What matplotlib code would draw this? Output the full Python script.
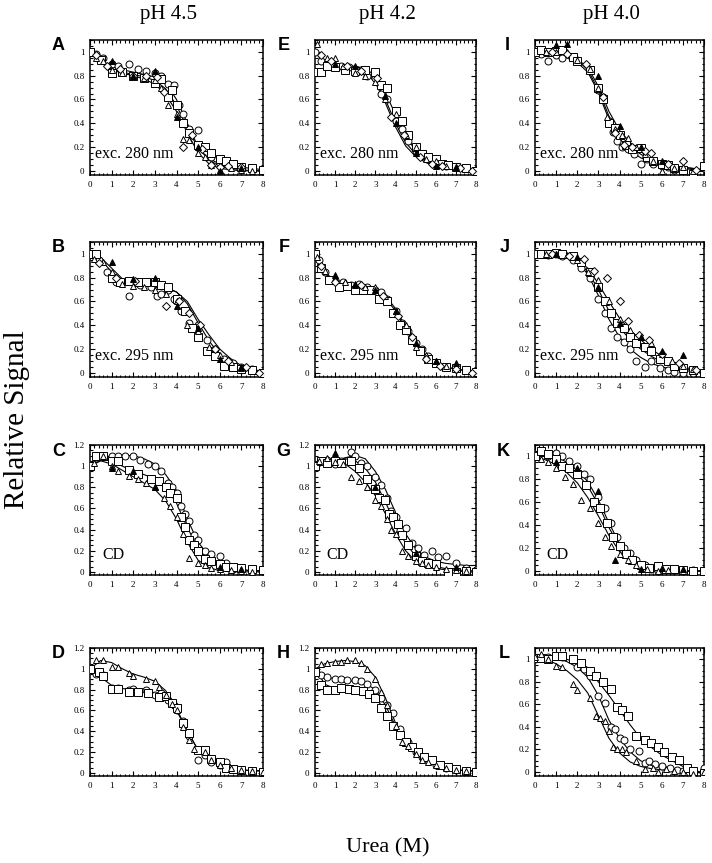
import matplotlib
matplotlib.use("Agg")
import matplotlib.pyplot as plt
from matplotlib.ticker import MultipleLocator, FuncFormatter

plt.rcParams['font.family'] = ['Liberation Serif', 'DejaVu Serif']

# urea grid used for the fitted curves (read every 0.5 M)
fit_x = [0, 0.5, 1, 1.5, 2, 2.5, 3, 3.5, 4, 4.5, 5, 5.5, 6, 6.5, 7, 7.5, 8]

# ---------------- A : pH 4.5, exc. 280 nm ----------------
A_fit = [[1.0, 0.93, 0.88, 0.85, 0.83, 0.81, 0.79, 0.74, 0.6, 0.4, 0.2, 0.09, 0.04, 0.02, 0.01, 0.0, 0.0],
         [1.0, 0.92, 0.86, 0.83, 0.81, 0.79, 0.76, 0.69, 0.55, 0.36, 0.19, 0.1, 0.06, 0.04, 0.03, 0.02, 0.01],
         [1.0, 0.91, 0.85, 0.82, 0.8, 0.77, 0.73, 0.64, 0.5, 0.32, 0.15, 0.06, 0.02, 0.01, 0.0, 0.0, 0.0]]
A_o_x = [0, 0.3, 0.6, 1, 1.3, 1.8, 2.2, 2.6, 3, 3.3, 3.6, 3.9, 4.1, 4.3, 4.6, 5, 5.3, 5.6, 6, 6.3, 6.6, 7, 7.5, 8]
A_o_y = [1.0, 0.98, 0.95, 0.9, 0.88, 0.9, 0.86, 0.84, 0.82, 0.8, 0.73, 0.72, 0.55, 0.48, 0.35, 0.34, 0.2, 0.12, 0.06, 0.07, 0.06, 0.03, 0.02, 0.0]
A_s_x = [0, 0.5, 1, 1.5, 2, 2.5, 3, 3.3, 3.6, 3.8, 4, 4.3, 4.6, 5, 5.3, 5.6, 6, 6.3, 6.6, 7, 7.5, 8]
A_s_y = [1.0, 0.93, 0.82, 0.83, 0.8, 0.78, 0.74, 0.77, 0.62, 0.68, 0.55, 0.4, 0.32, 0.22, 0.2, 0.15, 0.1, 0.08, 0.06, 0.03, 0.02, 0.01]
A_t_x = [0.3, 0.6, 1, 1.5, 2, 2.5, 3, 3.3, 3.6, 4, 4.3, 4.6, 5, 5.3, 5.6, 6, 6.5, 7, 7.5]
A_t_y = [0.95, 0.92, 0.85, 0.82, 0.8, 0.78, 0.76, 0.7, 0.55, 0.48, 0.27, 0.26, 0.15, 0.12, 0.05, 0.01, 0.02, 0.01, 0.0]
A_d_x = [0.3, 0.8, 1.4, 2, 2.6, 3.1, 3.4, 4.3, 4.7, 5.2, 5.6, 6, 6.4, 7]
A_d_y = [0.97, 0.88, 0.86, 0.8, 0.8, 0.79, 0.66, 0.2, 0.3, 0.18, 0.05, 0.03, 0.04, 0.03]
A_f_x = [1, 2, 3, 4, 5, 6, 7]
A_f_y = [0.92, 0.8, 0.84, 0.45, 0.2, 0.0, 0.02]

# ---------------- B : pH 4.5, exc. 295 nm ----------------
B_fit = [[1.0, 0.95, 0.85, 0.77, 0.74, 0.73, 0.72, 0.71, 0.68, 0.6, 0.45, 0.32, 0.2, 0.12, 0.06, 0.03, 0.01],
         [1.0, 0.97, 0.88, 0.79, 0.76, 0.75, 0.74, 0.72, 0.68, 0.58, 0.42, 0.27, 0.15, 0.08, 0.04, 0.02, 0.0]]
B_o_x = [0, 0.2, 0.4, 0.8, 1.2, 1.8, 2.3, 2.8, 3.1, 3.3, 3.6, 3.9, 4.2, 4.6, 5, 5.4, 5.8, 6.2, 6.6, 7, 7.5, 8]
B_o_y = [1.0, 1.0, 0.95, 0.85, 0.76, 0.65, 0.74, 0.72, 0.65, 0.66, 0.7, 0.62, 0.52, 0.42, 0.4, 0.28, 0.2, 0.12, 0.08, 0.05, 0.03, 0.0]
B_s_x = [0, 0.3, 1, 1.4, 1.8, 2.2, 2.6, 3.0, 3.3, 3.6, 4.0, 4.4, 4.7, 5.0, 5.4, 5.8, 6.2, 6.6, 7, 7.5, 8]
B_s_y = [1.0, 1.0, 0.8, 0.76, 0.77, 0.76, 0.76, 0.76, 0.74, 0.72, 0.62, 0.52, 0.38, 0.3, 0.18, 0.14, 0.06, 0.05, 0.03, 0.02, 0.0]
B_t_x = [0.2, 0.6, 1.0, 1.5, 2, 2.5, 3, 3.5, 4, 4.5, 5, 5.5, 6, 6.5, 7]
B_t_y = [0.96, 0.93, 0.85, 0.75, 0.73, 0.72, 0.7, 0.66, 0.6, 0.4, 0.35, 0.22, 0.15, 0.09, 0.04]
B_d_x = [0.4, 1.2, 2.1, 3.5, 4.1, 4.6, 5.1, 5.8, 6.4, 7.2, 7.8]
B_d_y = [0.92, 0.8, 0.77, 0.56, 0.6, 0.5, 0.4, 0.2, 0.1, 0.05, 0.0]
B_f_x = [1, 2, 3, 4, 5, 6, 7]
B_f_y = [0.93, 0.79, 0.8, 0.56, 0.38, 0.12, 0.05]

# ---------------- C : pH 4.5, CD ----------------
C_fit = [[1.0, 1.07, 1.1, 1.1, 1.1, 1.07, 1.02, 0.92, 0.77, 0.5, 0.28, 0.15, 0.08, 0.04, 0.02, 0.01, 0.01],
         [1.0, 1.07, 1.05, 1.0, 0.95, 0.92, 0.88, 0.8, 0.65, 0.42, 0.22, 0.1, 0.05, 0.03, 0.02, 0.01, 0.01],
         [1.0, 1.05, 1.02, 0.96, 0.9, 0.84, 0.78, 0.67, 0.5, 0.28, 0.11, 0.04, 0.01, 0.0, 0.0, 0.0, 0.0]]
C_o_x = [0.3, 0.6, 1, 1.3, 1.6, 2.0, 2.3, 2.7, 3.0, 3.3, 3.6, 3.8, 4.0, 4.2, 4.4, 4.6, 4.8, 5, 5.3, 5.6, 6, 6.3, 6.6, 7, 7.5, 8]
C_o_y = [1.08, 1.1, 1.1, 1.1, 1.1, 1.1, 1.06, 1.02, 1.0, 0.95, 0.84, 0.8, 0.75, 0.62, 0.55, 0.48, 0.35, 0.3, 0.2, 0.17, 0.15, 0.08, 0.03, 0.02, 0.02, 0.01]
C_s_x = [0, 0.3, 0.6, 1, 1.3, 1.8, 2.2, 2.8, 3.2, 3.5, 3.7, 4.0, 4.2, 4.4, 4.6, 4.8, 5.0, 5.3, 5.6, 6, 6.3, 6.6, 7, 7.5, 8]
C_s_y = [1.0, 1.1, 1.1, 1.05, 1.05, 0.96, 0.93, 0.88, 0.86, 0.8, 0.75, 0.7, 0.52, 0.42, 0.3, 0.25, 0.2, 0.12, 0.1, 0.07, 0.05, 0.05, 0.04, 0.03, 0.02]
C_t_x = [0.2, 0.6, 1.0, 1.3, 1.8, 2.2, 2.6, 3.0, 3.4, 3.7, 4.0, 4.3, 4.6, 5.0, 5.3, 5.6, 6, 6.5, 7, 7.5]
C_t_y = [1.03, 1.1, 1.0, 0.95, 0.91, 0.88, 0.84, 0.8, 0.7, 0.62, 0.52, 0.36, 0.13, 0.08, 0.06, 0.04, 0.03, 0.02, 0.01, 0.0]
C_f_x = [1, 2, 3, 6, 7]
C_f_y = [0.98, 0.95, 0.8, 0.05, 0.03]

# ---------------- D : pH 4.5 ----------------
D_fit = [[1.0, 1.08, 1.06, 1.0, 0.95, 0.92, 0.88, 0.79, 0.62, 0.4, 0.22, 0.12, 0.07, 0.04, 0.03, 0.02, 0.02],
         [1.0, 0.92, 0.84, 0.81, 0.8, 0.79, 0.77, 0.72, 0.6, 0.4, 0.22, 0.12, 0.07, 0.04, 0.03, 0.02, 0.02]]
D_t_x = [0.3, 0.6, 1.0, 1.3, 1.8, 2.0, 2.6, 3.0, 3.2, 3.5, 3.8, 4.0, 4.3, 4.6, 4.8, 5.3, 5.6, 6, 6.5, 7, 7.5, 8]
D_t_y = [1.08, 1.08, 1.02, 1.02, 0.96, 0.93, 0.9, 0.88, 0.83, 0.75, 0.66, 0.6, 0.44, 0.32, 0.23, 0.2, 0.12, 0.08, 0.05, 0.03, 0.02, 0.01]
D_o_x = [0, 0.3, 0.6, 1, 1.3, 1.8, 2.0, 2.6, 3.0, 3.3, 3.6, 3.9, 4.0, 4.3, 4.6, 5.0, 5.3, 5.6, 6, 6.3, 6.6, 7, 7.5, 8]
D_o_y = [1.0, 0.95, 0.94, 0.82, 0.82, 0.8, 0.81, 0.8, 0.75, 0.77, 0.7, 0.65, 0.6, 0.5, 0.35, 0.12, 0.17, 0.1, 0.08, 0.1, 0.04, 0.03, 0.02, 0.01]
D_s_x = [0, 0.4, 0.6, 1, 1.3, 1.8, 2.2, 2.7, 3.2, 3.5, 3.8, 4.0, 4.3, 4.6, 5.0, 5.3, 5.6, 6, 6.3, 6.6, 7, 7.5, 8]
D_s_y = [1.0, 0.97, 0.93, 0.81, 0.81, 0.78, 0.78, 0.77, 0.73, 0.74, 0.67, 0.62, 0.48, 0.38, 0.22, 0.22, 0.13, 0.1, 0.05, 0.04, 0.03, 0.02, 0.01]

# ---------------- E : pH 4.2, exc. 280 nm ----------------
E_fit = [[1.0, 0.9, 0.88, 0.88, 0.87, 0.84, 0.76, 0.6, 0.4, 0.24, 0.14, 0.08, 0.05, 0.03, 0.02, 0.01, 0.01],
         [1.0, 0.91, 0.88, 0.88, 0.88, 0.86, 0.8, 0.66, 0.47, 0.29, 0.17, 0.1, 0.06, 0.04, 0.02, 0.01, 0.01],
         [1.0, 0.9, 0.87, 0.87, 0.86, 0.83, 0.74, 0.57, 0.37, 0.21, 0.12, 0.07, 0.04, 0.02, 0.01, 0.01, 0.0]]
E_o_x = [0, 0.3, 0.6, 1, 1.3, 1.7, 2.0, 2.3, 2.6, 3.0, 3.3, 3.6, 4.0, 4.3, 4.6, 5.0, 5.3, 5.6, 6, 6.5, 7, 7.5, 8]
E_o_y = [1.0, 0.92, 0.9, 0.88, 0.88, 0.87, 0.86, 0.85, 0.8, 0.78, 0.65, 0.6, 0.42, 0.35, 0.25, 0.17, 0.13, 0.1, 0.07, 0.04, 0.03, 0.02, 0.01]
E_s_x = [0, 0.3, 0.6, 1, 1.5, 2, 2.5, 3, 3.3, 3.6, 4, 4.3, 4.6, 5, 5.3, 5.6, 6, 6.3, 6.6, 7, 7.5, 8]
E_s_y = [0.83, 0.83, 0.88, 0.87, 0.85, 0.84, 0.85, 0.83, 0.72, 0.7, 0.5, 0.42, 0.3, 0.2, 0.14, 0.12, 0.1, 0.06, 0.05, 0.03, 0.02, 0.0]
E_t_x = [0.1, 0.6, 1.0, 1.4, 2, 2.5, 3, 3.5, 4, 4.5, 5, 5.5, 6, 6.5, 7]
E_t_y = [1.07, 0.95, 0.95, 0.88, 0.82, 0.8, 0.75, 0.6, 0.48, 0.3, 0.2, 0.1, 0.08, 0.04, 0.03]
E_d_x = [0.3, 0.8, 1.6, 2.3, 3.1, 3.8, 4.4, 5.2, 5.8, 6.3, 7.2, 7.8]
E_d_y = [0.97, 0.92, 0.88, 0.84, 0.78, 0.45, 0.3, 0.12, 0.06, 0.04, 0.02, 0.0]
E_f_x = [1, 2, 3.5, 4, 5, 6, 7]
E_f_y = [0.9, 0.88, 0.63, 0.4, 0.15, 0.04, 0.03]

# ---------------- F : pH 4.2, exc. 295 nm ----------------
F_fit = [[1.0, 0.84, 0.78, 0.76, 0.75, 0.73, 0.71, 0.65, 0.54, 0.39, 0.25, 0.15, 0.09, 0.05, 0.03, 0.02, 0.01],
         [1.0, 0.82, 0.76, 0.73, 0.72, 0.71, 0.69, 0.63, 0.52, 0.37, 0.23, 0.14, 0.08, 0.05, 0.03, 0.02, 0.01]]
F_o_x = [0, 0.2, 0.5, 1, 1.4, 1.8, 2.2, 2.6, 3, 3.3, 3.6, 4, 4.3, 4.6, 5, 5.3, 5.6, 6, 6.4, 7, 7.5, 8]
F_o_y = [1.0, 0.95, 0.85, 0.78, 0.76, 0.74, 0.75, 0.72, 0.7, 0.68, 0.62, 0.52, 0.42, 0.35, 0.25, 0.2, 0.14, 0.08, 0.05, 0.03, 0.02, 0.0]
F_s_x = [0, 0.3, 0.7, 1.2, 1.6, 2, 2.4, 2.8, 3.2, 3.6, 3.9, 4.2, 4.5, 4.8, 5.2, 5.6, 6, 6.5, 7, 7.5, 8]
F_s_y = [1.0, 0.88, 0.78, 0.72, 0.73, 0.7, 0.7, 0.7, 0.62, 0.6, 0.5, 0.4, 0.36, 0.28, 0.18, 0.12, 0.08, 0.05, 0.04, 0.02, 0.01]
F_t_x = [0.1, 0.5, 1.0, 1.5, 2.0, 2.5, 3.0, 3.5, 4, 4.5, 5, 5.5, 6, 6.5]
F_t_y = [0.97, 0.86, 0.8, 0.76, 0.74, 0.72, 0.72, 0.65, 0.52, 0.4, 0.22, 0.15, 0.1, 0.06]
F_d_x = [0.3, 1, 2.3, 3.4, 4.1, 4.8, 5.5, 6.2, 7, 7.8]
F_d_y = [0.9, 0.76, 0.74, 0.65, 0.48, 0.3, 0.12, 0.06, 0.03, 0.0]
F_f_x = [1, 2, 3, 4, 5, 6, 7]
F_f_y = [0.82, 0.75, 0.7, 0.52, 0.25, 0.1, 0.08]

# ---------------- G : pH 4.2, CD ----------------
G_fit = [[1.0, 1.03, 1.05, 1.08, 1.1, 1.07, 0.95, 0.78, 0.56, 0.36, 0.22, 0.14, 0.1, 0.08, 0.07, 0.06, 0.06],
         [1.0, 1.04, 1.06, 1.07, 1.05, 0.98, 0.85, 0.66, 0.45, 0.27, 0.15, 0.08, 0.05, 0.03, 0.02, 0.01, 0.01],
         [1.0, 1.04, 1.05, 1.02, 0.95, 0.85, 0.72, 0.55, 0.36, 0.2, 0.1, 0.05, 0.03, 0.02, 0.01, 0.0, 0.0]]
G_o_x = [0.6, 1.0, 1.3, 1.8, 2.0, 2.3, 2.6, 3.0, 3.3, 3.6, 3.8, 4.0, 4.2, 4.5, 4.8, 5.1, 5.4, 5.8, 6.1, 6.5, 7.0, 7.5, 8]
G_o_y = [1.06, 1.02, 1.05, 1.13, 1.1, 1.03, 1.0, 0.9, 0.82, 0.7, 0.58, 0.52, 0.4, 0.41, 0.27, 0.23, 0.16, 0.2, 0.14, 0.15, 0.08, 0.04, 0.02]
G_s_x = [0, 0.3, 0.6, 1, 1.3, 1.8, 2.2, 2.6, 3.0, 3.2, 3.5, 3.7, 3.9, 4.1, 4.3, 4.6, 5.0, 5.3, 5.6, 6, 6.6, 7, 7.5, 8]
G_s_y = [1.0, 1.05, 1.03, 1.05, 1.03, 1.05, 0.98, 0.88, 0.78, 0.7, 0.68, 0.55, 0.52, 0.45, 0.35, 0.25, 0.15, 0.1, 0.08, 0.07, 0.0, 0.0, 0.01, 0.0]
G_t_x = [0.2, 0.6, 1.0, 1.4, 1.8, 2.2, 2.6, 3.0, 3.3, 3.6, 3.8, 4.0, 4.3, 4.6, 5.0, 5.3, 5.6, 6, 6.5, 7, 7.5]
G_t_y = [1.05, 1.08, 1.04, 1.02, 0.9, 0.86, 0.8, 0.68, 0.62, 0.5, 0.4, 0.36, 0.2, 0.15, 0.1, 0.08, 0.06, 0.05, 0.03, 0.02, 0.01]
G_f_x = [1, 3, 5, 7]
G_f_y = [1.12, 0.8, 0.18, 0.05]

# ---------------- H : pH 4.2 ----------------
H_fit = [[1.0, 1.05, 1.07, 1.08, 1.07, 1.03, 0.92, 0.72, 0.48, 0.3, 0.18, 0.11, 0.07, 0.05, 0.03, 0.02, 0.02],
         [1.0, 0.93, 0.9, 0.89, 0.88, 0.86, 0.8, 0.65, 0.45, 0.3, 0.18, 0.11, 0.07, 0.05, 0.03, 0.02, 0.02],
         [1.0, 0.85, 0.81, 0.8, 0.8, 0.78, 0.72, 0.6, 0.44, 0.31, 0.2, 0.13, 0.08, 0.05, 0.03, 0.02, 0.02]]
H_t_x = [0.3, 0.6, 1, 1.3, 1.6, 2, 2.3, 2.6, 3, 3.3, 3.6, 4, 4.3, 4.6, 5, 5.3, 5.6, 6, 6.5, 7, 7.5]
H_t_y = [1.05, 1.06, 1.07, 1.07, 1.08, 1.08, 1.06, 1.0, 0.9, 0.78, 0.65, 0.45, 0.3, 0.26, 0.18, 0.12, 0.1, 0.08, 0.05, 0.03, 0.02]
H_o_x = [0, 0.3, 0.6, 1, 1.3, 1.6, 2, 2.3, 2.6, 3, 3.3, 3.6, 3.9, 4.2, 4.6, 5, 5.3, 5.6, 6, 6.5, 7, 7.5, 8]
H_o_y = [0.97, 0.94, 0.92, 0.9, 0.9, 0.89, 0.89, 0.88, 0.85, 0.8, 0.72, 0.65, 0.58, 0.42, 0.3, 0.2, 0.15, 0.12, 0.08, 0.05, 0.03, 0.02, 0.01]
H_s_x = [0, 0.3, 0.6, 1, 1.3, 1.7, 2, 2.4, 2.7, 3, 3.3, 3.6, 3.9, 4.2, 4.5, 4.8, 5.1, 5.4, 5.8, 6.2, 6.6, 7, 7.5, 8]
H_s_y = [0.97, 0.84, 0.8, 0.8, 0.82, 0.81, 0.8, 0.79, 0.76, 0.72, 0.62, 0.55, 0.45, 0.36, 0.3, 0.25, 0.2, 0.15, 0.12, 0.08, 0.06, 0.04, 0.02, 0.01]

# ---------------- I : pH 4.0, exc. 280 nm ----------------
I_fit = [[1.0, 0.99, 0.98, 0.96, 0.93, 0.85, 0.68, 0.46, 0.31, 0.21, 0.14, 0.09, 0.06, 0.04, 0.03, 0.02, 0.0],
         [1.0, 1.0, 0.99, 0.97, 0.94, 0.87, 0.71, 0.5, 0.34, 0.24, 0.16, 0.11, 0.07, 0.05, 0.03, 0.02, 0.01],
         [1.0, 0.98, 0.97, 0.95, 0.91, 0.83, 0.66, 0.43, 0.27, 0.17, 0.11, 0.07, 0.05, 0.03, 0.02, 0.01, 0.0]]
I_o_x = [0, 0.3, 0.6, 1, 1.3, 1.8, 2.0, 2.6, 3, 3.2, 3.5, 3.7, 3.9, 4.1, 4.4, 4.7, 5, 5.3, 5.6, 6, 6.3, 6.6, 7, 7.5, 8]
I_o_y = [1.0, 0.98, 0.92, 0.97, 0.95, 0.96, 0.93, 0.85, 0.68, 0.62, 0.42, 0.33, 0.25, 0.2, 0.18, 0.14, 0.06, 0.1, 0.06, 0.04, 0.03, 0.01, 0.01, -0.02, 0.02]
I_s_x = [0, 0.3, 0.6, 1, 1.3, 1.8, 2, 2.6, 3, 3.2, 3.5, 3.8, 4, 4.3, 4.6, 5, 5.3, 5.6, 6, 6.3, 6.6, 7, 7.5, 8]
I_s_y = [1.0, 1.02, 1.0, 1.01, 1.02, 0.96, 0.92, 0.85, 0.7, 0.6, 0.4, 0.36, 0.3, 0.22, 0.18, 0.19, 0.12, 0.08, 0.06, 0.05, 0.02, 0.01, -0.03, 0.04]
I_t_x = [0.5, 1.0, 1.5, 2.0, 2.6, 3.0, 3.4, 3.8, 4.1, 4.4, 4.8, 5.2, 5.6, 6.0, 6.6, 7.0, 7.5]
I_t_y = [1.0, 1.0, 1.0, 0.93, 0.86, 0.7, 0.45, 0.35, 0.3, 0.28, 0.2, 0.14, 0.08, 0.0, 0.02, 0.03, 0.0]
I_d_x = [0.8, 1.5, 2.4, 3.2, 3.8, 4.2, 4.6, 5.2, 5.5, 6.3, 7.0, 7.6]
I_d_y = [1.0, 0.98, 0.9, 0.62, 0.32, 0.22, 0.2, 0.17, 0.15, 0.06, 0.08, 0.01]
I_f_x = [1, 1.5, 3, 4, 5, 6]
I_f_y = [1.06, 1.07, 0.8, 0.38, 0.2, 0.08]

# ---------------- J : pH 4.0, exc. 295 nm ----------------
J_fit = [[1.0, 1.0, 1.0, 0.98, 0.95, 0.88, 0.75, 0.6, 0.46, 0.36, 0.28, 0.2, 0.14, 0.09, 0.05, 0.03, 0.01],
         [1.0, 1.0, 0.99, 0.97, 0.94, 0.85, 0.7, 0.52, 0.38, 0.28, 0.2, 0.14, 0.09, 0.06, 0.04, 0.02, 0.01],
         [1.0, 1.0, 0.99, 0.97, 0.93, 0.83, 0.65, 0.45, 0.3, 0.2, 0.13, 0.08, 0.05, 0.03, 0.02, 0.01, 0.0]]
J_o_x = [0, 0.3, 0.6, 1, 1.3, 1.8, 2.2, 2.6, 3, 3.3, 3.6, 3.9, 4.2, 4.5, 4.8, 5.2, 5.5, 5.9, 6.3, 6.6, 7, 7.5, 8]
J_o_y = [1.0, 1.0, 0.99, 1.0, 0.98, 0.95, 0.88, 0.8, 0.62, 0.5, 0.38, 0.3, 0.26, 0.2, 0.1, 0.05, 0.1, 0.04, 0.02, 0.01, 0.0, 0.0, -0.02]
J_s_x = [0, 0.3, 0.6, 1, 1.3, 1.8, 2.2, 2.6, 3, 3.3, 3.6, 3.9, 4.2, 4.5, 4.8, 5.2, 5.5, 5.9, 6.3, 6.6, 7, 7.5, 8]
J_s_y = [1.0, 1.0, 1.0, 1.01, 1.0, 0.98, 0.93, 0.85, 0.72, 0.6, 0.5, 0.42, 0.38, 0.3, 0.25, 0.22, 0.18, 0.12, 0.1, 0.06, 0.04, 0.02, 0.0]
J_t_x = [0.5, 1, 1.5, 2.0, 2.5, 3, 3.5, 4, 4.5, 5, 5.5, 6, 6.5, 7, 7.5]
J_t_y = [1.0, 1.0, 0.99, 0.95, 0.85, 0.78, 0.6, 0.45, 0.36, 0.3, 0.25, 0.16, 0.1, 0.06, 0.03]
J_d_x = [0.8, 1.6, 2.3, 2.8, 3.4, 4.0, 4.4, 4.9, 5.4, 6.0, 6.8, 7.6]
J_d_y = [1.0, 0.98, 0.96, 0.86, 0.8, 0.6, 0.44, 0.32, 0.28, 0.16, 0.08, 0.02]
J_f_x = [1, 2, 3, 4, 5, 6, 7]
J_f_y = [1.0, 0.97, 0.72, 0.42, 0.3, 0.18, 0.15]

# ---------------- K : pH 4.0, CD ----------------
K_fit = [[1.0, 1.02, 1.0, 0.95, 0.88, 0.78, 0.62, 0.42, 0.24, 0.12, 0.05, 0.02, 0.01, 0.0, 0.0, 0.0, 0.0],
         [1.0, 1.0, 0.97, 0.92, 0.85, 0.74, 0.58, 0.38, 0.21, 0.1, 0.04, 0.02, 0.01, 0.0, 0.0, 0.0, 0.0],
         [1.0, 0.97, 0.93, 0.86, 0.77, 0.64, 0.48, 0.31, 0.17, 0.08, 0.03, 0.01, 0.0, 0.0, 0.0, 0.0, 0.0]]
K_o_x = [0, 0.3, 0.6, 1, 1.3, 1.6, 2, 2.3, 2.6, 3, 3.3, 3.6, 3.9, 4.2, 4.5, 4.8, 5.2, 5.5, 5.8, 6.2, 6.6, 7, 7.5, 8]
K_o_y = [1.0, 1.05, 1.0, 1.03, 1.0, 0.96, 0.92, 0.85, 0.8, 0.65, 0.55, 0.42, 0.3, 0.2, 0.16, 0.1, 0.05, 0.02, 0.0, 0.02, 0.01, 0.0, 0.01, 0.0]
K_s_x = [0, 0.3, 0.6, 1, 1.3, 1.6, 2, 2.4, 2.8, 3.1, 3.4, 3.7, 4, 4.3, 4.6, 5, 5.4, 5.8, 6.2, 6.6, 7, 7.5, 8]
K_s_y = [1.0, 1.05, 1.02, 0.98, 0.92, 0.9, 0.85, 0.75, 0.6, 0.55, 0.42, 0.3, 0.22, 0.15, 0.1, 0.05, 0.03, 0.04, 0.02, 0.02, 0.01, 0.0, 0.0]
K_t_x = [0.3, 0.6, 1, 1.4, 1.8, 2.2, 2.6, 3, 3.3, 3.6, 4, 4.4, 4.8, 5.3, 5.8, 6.3, 7]
K_t_y = [0.98, 0.95, 0.9, 0.82, 0.76, 0.62, 0.55, 0.42, 0.3, 0.22, 0.15, 0.1, 0.05, 0.02, 0.0, 0.01, 0.0]
K_f_x = [1, 2, 3, 3.8, 5, 6, 7]
K_f_y = [0.95, 0.9, 0.7, 0.1, 0.02, 0.03, 0.02]

# ---------------- L : pH 4.0 ----------------
L_fit = [[1.0, 1.02, 1.02, 1.0, 0.97, 0.9, 0.8, 0.68, 0.55, 0.42, 0.3, 0.22, 0.15, 0.1, 0.05, 0.02, -0.01],
         [1.0, 1.02, 1.01, 0.98, 0.93, 0.84, 0.68, 0.46, 0.3, 0.18, 0.1, 0.06, 0.04, 0.02, 0.01, 0.0, -0.01],
         [1.0, 1.0, 0.96, 0.9, 0.82, 0.7, 0.5, 0.3, 0.17, 0.09, 0.05, 0.03, 0.02, 0.01, 0.0, 0.0, -0.01]]
L_s_x = [0, 0.3, 0.6, 1, 1.3, 1.8, 2.2, 2.6, 2.9, 3.2, 3.6, 3.9, 4.1, 4.4, 4.8, 5.2, 5.5, 5.8, 6.1, 6.5, 6.8, 7.2, 7.5, 8]
L_s_y = [1.01, 1.01, 1.0, 1.03, 1.03, 1.0, 0.97, 0.9, 0.85, 0.8, 0.74, 0.58, 0.55, 0.5, 0.32, 0.28, 0.26, 0.22, 0.18, 0.13, 0.11, 0.04, 0.01, -0.01]
L_o_x = [0, 0.6, 1, 1.3, 2, 2.3, 2.6, 3, 3.3, 3.6, 3.8, 4, 4.2, 4.5, 4.9, 5.2, 5.4, 5.7, 6, 6.4, 6.7, 7, 7.5, 8]
L_o_y = [1.0, 1.02, 1.03, 1.02, 0.93, 0.91, 0.85, 0.67, 0.61, 0.4, 0.38, 0.3, 0.28, 0.2, 0.19, 0.08, 0.1, 0.07, 0.05, 0.04, 0.02, 0.01, 0.0, 0.04]
L_t_x = [0, 0.3, 0.6, 1, 1.3, 1.8, 2.0, 2.6, 2.9, 3.1, 3.3, 3.5, 3.7, 3.9, 4.1, 4.3, 4.8, 5.2, 5.6, 5.8, 6.2, 6.6, 7, 7.5, 8]
L_t_y = [1.02, 1.05, 1.0, 0.94, 0.93, 0.78, 0.73, 0.66, 0.5, 0.48, 0.45, 0.36, 0.22, 0.2, 0.2, 0.18, 0.1, 0.03, 0.04, 0.0, 0.03, 0.01, 0.0, -0.02, 0.0]

col_titles = ['pH 4.5', 'pH 4.2', 'pH 4.0']
row_texts = ['exc. 280 nm', 'exc. 295 nm', 'CD', None]

# figure layout in pixels
W, H = 712, 863
cols = [(90, 263), (315, 476), (535, 704)]
rows = [(40, 175), (242, 377), (445, 575), (648, 776)]

fig = plt.figure(figsize=(W / 100, H / 100), dpi=100)

g = globals()
letters = [['A', 'B', 'C', 'D'], ['E', 'F', 'G', 'H'], ['I', 'J', 'K', 'L']]
marker_style = {
    'o': dict(marker='o', ms=5.0, mfc='white', mec='black', mew=0.7),
    's': dict(marker='s', ms=5.6, mfc='white', mec='black', mew=0.7),
    't': dict(marker='^', ms=5.0, mfc='white', mec='black', mew=0.7),
    'd': dict(marker='D', ms=3.6, mfc='white', mec='black', mew=0.7),
    'f': dict(marker='^', ms=4.8, mfc='black', mec='black', mew=0.7),
}

for ci in range(3):
    for ri in range(4):
        L = letters[ci][ri]
        l, r = cols[ci]
        t, b = rows[ri]
        ax = fig.add_axes([l / W, 1 - b / H, (r - l) / W, (b - t) / H])
        for fy in g[L + '_fit']:
            ax.plot(fit_x, fy, color='black', lw=0.8, zorder=2)
        for key in ['o', 's', 't', 'd', 'f']:
            if L + '_' + key + '_x' in g:
                ax.plot(g[L + '_' + key + '_x'], g[L + '_' + key + '_y'], ls='none',
                        zorder=3, **marker_style[key])
        ax.set_xlim(0, 8)
        if ri >= 2 and ci < 2:
            ax.set_ylim(-0.03, 1.2)
            ax.set_yticks([0, 0.2, 0.4, 0.6, 0.8, 1.0, 1.2])
        else:
            ax.set_ylim(-0.035, 1.1)
            ax.set_yticks([0, 0.2, 0.4, 0.6, 0.8, 1.0])
        ax.xaxis.set_major_locator(MultipleLocator(1))
        ax.xaxis.set_minor_locator(MultipleLocator(0.2))
        ax.yaxis.set_minor_locator(MultipleLocator(0.05))
        ax.yaxis.set_major_formatter(FuncFormatter(lambda v, p: '%g' % round(v, 2)))
        ax.tick_params(which='both', direction='in', top=True, right=True,
                       labelsize=6.5, width=0.8, pad=4)
        ax.tick_params(which='major', length=3.5)
        ax.tick_params(which='minor', length=1.8)
        for s in ax.spines.values():
            s.set_linewidth(1.1)
        # panel letter
        fig.text((l - 25) / W, 1 - (t + 6) / H, L, ha='right', va='center',
                 fontsize=13, fontweight='bold', family='Liberation Sans')
        txt = row_texts[ri]
        if txt:
            xf = 0.03 if txt != 'CD' else 0.07
            ax.text(xf, 0.155, txt, transform=ax.transAxes, ha='left', va='center',
                    fontsize=11.5)

for ci in range(3):
    l, r = cols[ci]
    fig.text(((l + r) / 2 - 8) / W, 1 - 14 / H, col_titles[ci], ha='center', va='center',
             fontsize=15)

fig.text(17 / W, 1 - 420 / H, 'Relative Signal', rotation=90, ha='center', va='center',
         fontsize=21)
fig.text(388 / W, 1 - 848 / H, 'Urea (M)', ha='center', va='center', fontsize=16)

fig.savefig('out.png', dpi=100)
